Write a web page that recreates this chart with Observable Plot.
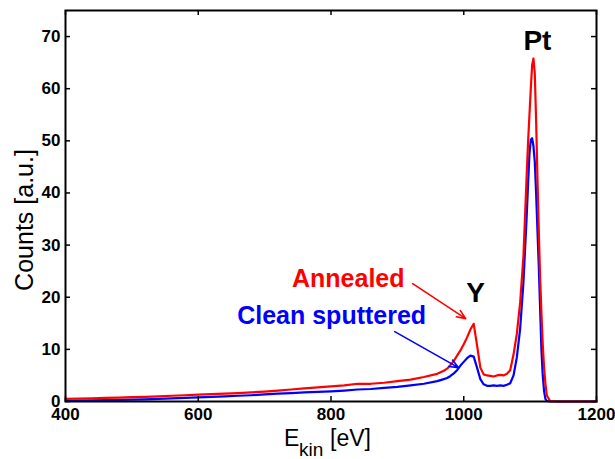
<!DOCTYPE html>
<html><head><meta charset="utf-8">
<script src="https://cdn.jsdelivr.net/npm/d3@7"></script>
<script src="https://cdn.jsdelivr.net/npm/@observablehq/plot@0.6"></script>
<style>html,body{margin:0;padding:0;background:#fff;}</style>
</head><body><div id="chart"></div>
<script>
// Kinetic energy (eV)
const energy = [
  400,420,440,460,480,500,520,540,560,580,600,620,640,660,680,700,720,740,760,780,800,820,840,860,880,900,920,940,960,
  965,970,975,980,985,990,995,1000,1005,1010,1015,1020,1025,1030,1035,1040,1045,1050,1055,1060,1065,1070,1075,1080,1085,1090,1095,
  1097,1099,1101,1103,1105,1107,1109,1111,1113,1115,1117,1119,1121,1123,1125,
  1130,1140,1160,1180,1200
];
// Counts [a.u.] - Annealed (red)
const annealed = [
  0.5,0.55,0.6,0.7,0.75,0.85,0.9,1.0,1.1,1.2,1.3,1.4,1.5,1.6,1.75,1.9,2.1,2.3,2.5,2.7,2.9,3.1,3.4,3.4,3.6,3.9,4.2,4.7,5.3,
  5.6,5.9,6.3,7.0,7.8,8.8,9.8,11.0,12.3,13.8,14.9,10.8,6.5,5.2,5.0,4.9,4.8,5.0,5.1,5.0,5.3,6.0,9.0,13,19,28,44,
  50,55,60,64.5,65.8,63,54,43,33,24,17,11,6.5,3.5,1.2,
  0.1,0,0,0,0
];
// Counts [a.u.] - Clean sputtered (blue)
const cleanSputtered = [
  0.1,0.15,0.2,0.25,0.3,0.35,0.4,0.5,0.6,0.7,0.8,0.9,1.0,1.1,1.2,1.35,1.5,1.6,1.75,1.85,1.95,2.1,2.3,2.4,2.6,2.8,3.1,3.4,3.9,
  4.1,4.3,4.5,4.9,5.4,6.0,6.9,7.6,8.3,8.8,8.6,6.5,4.3,3.3,3.0,3.0,3.1,3.0,3.1,3.0,3.2,3.5,5.0,8.5,14,23,36,
  42,47.5,50.2,50.5,49,46,40,33,26,18,10,5,2,0.5,0.1,
  0,0,0,0,0
];
const seriesNames = ["Clean sputtered", "Annealed"];
const seriesColors = ["#0000ff", "#ff0000"];
const xTicks = [400, 600, 800, 1000, 1200];
const yTicks = [0, 10, 20, 30, 40, 50, 60, 70];
const yLabel = "Counts [a.u.]";

// Annotations (data coordinates)
const annotationText = ["Annealed", "Clean sputtered", "Y", "Pt"];
const annotationX = [826, 801, 1018, 1111];
const annotationY = [21.9, 14.8, 19.0, 67.4];
const arrowX1 = [923, 896];
const arrowY1 = [22.6, 13.4];
const arrowX2 = [1003, 992];
const arrowY2 = [15.9, 6.5];

const font = "'Liberation Sans', Arial, Helvetica, sans-serif";
const W = 615, H = 459, ML = 65, MR = 19, MT = 10, MB = 58;
const innerW = W - ML - MR, innerH = H - MT - MB, tickLen = 5;

const rows = [];
[cleanSputtered, annealed].forEach((vals, s) => {
  energy.forEach((e, i) => rows.push({series: seriesNames[s], e, v: vals[i]}));
});
const annotations = annotationText.map((t, i) => ({t, x: annotationX[i], y: annotationY[i], color: i === 0 ? "#ff0000" : i === 1 ? "#0000ff" : "#000000"}));
const arrows = arrowX1.map((_, i) => ({x1: arrowX1[i], y1: arrowY1[i], x2: arrowX2[i], y2: arrowY2[i], color: seriesColors[1 - i]}));

const plot = Plot.plot({
  width: W,
  height: H,
  marginLeft: ML,
  marginRight: MR,
  marginTop: MT,
  marginBottom: MB,
  style: {fontFamily: font, fontSize: "17px", fontWeight: "bold", background: "#fff", color: "#000"},
  x: {domain: [400, 1200]},
  y: {domain: [0, 75]},
  color: {domain: seriesNames, range: seriesColors},
  marks: [
    Plot.line(rows, {x: "e", y: "v", z: "series", stroke: "series", strokeWidth: 2.2}),
    Plot.arrow(arrows, {x1: "x1", y1: "y1", x2: "x2", y2: "y2", stroke: d => d.color, strokeWidth: 1.6, headLength: 9, headAngle: 45}),
    Plot.text(annotations.slice(0, 2), {x: "x", y: "y", text: "t", fill: "color", fontSize: 25, fontWeight: "bold", lineAnchor: "bottom", textAnchor: "middle"}),
    Plot.text(annotations.slice(2), {x: "x", y: "y", text: "t", fill: "color", fontSize: 28, fontWeight: "bold", lineAnchor: "bottom", textAnchor: "middle"}),
    // inward ticks (bottom / top / left / right)
    Plot.ruleX(xTicks, {x: d => d, insetTop: innerH - tickLen, stroke: "#000", strokeWidth: 1.5}),
    Plot.ruleX(xTicks, {x: d => d, insetBottom: innerH - tickLen, stroke: "#000", strokeWidth: 1.5}),
    Plot.ruleY(yTicks, {y: d => d, insetRight: innerW - tickLen, stroke: "#000", strokeWidth: 1.5}),
    Plot.ruleY(yTicks, {y: d => d, insetLeft: innerW - tickLen, stroke: "#000", strokeWidth: 1.5}),
    Plot.frame({stroke: "#000", strokeWidth: 2}),
    Plot.axisX({ticks: xTicks, tickSize: 0, tickPadding: 6, label: null, tickFormat: d => String(d)}),
    Plot.axisY({ticks: yTicks, tickSize: 0, tickPadding: 5, label: null, tickFormat: d => String(d)}),
    // axis labels
    Plot.text([yLabel], {text: d => d, frameAnchor: "left", rotate: -90, dx: -41, dy: 14, fontSize: 25, fontWeight: "normal", textAnchor: "middle", lineAnchor: "middle"}),
    Plot.text(["E"], {text: d => d, frameAnchor: "bottom", dx: -47, dy: 44, fontSize: 23, fontWeight: "normal", textAnchor: "start", lineAnchor: "bottom"}),
    Plot.text(["kin"], {text: d => d, frameAnchor: "bottom", dx: -32, dy: 54, fontSize: 19, fontWeight: "normal", textAnchor: "start", lineAnchor: "bottom"}),
    Plot.text(["[eV]"], {text: d => d, frameAnchor: "bottom", dx: -1, dy: 44, fontSize: 23, fontWeight: "normal", textAnchor: "start", lineAnchor: "bottom"})
  ]
});
document.getElementById("chart").appendChild(plot);
</script>
</body></html>
